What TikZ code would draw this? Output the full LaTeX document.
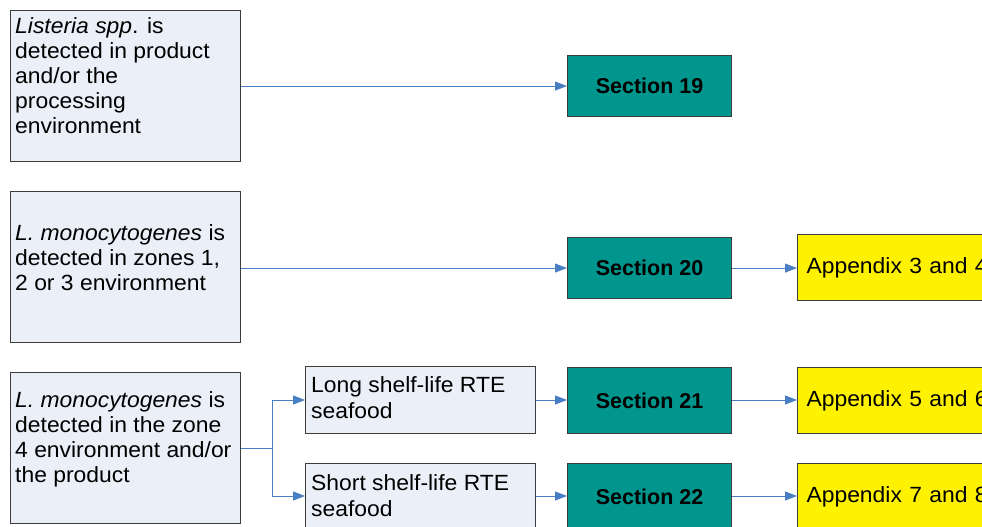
\documentclass[tikz,border=0pt]{standalone}
\usepackage{fontspec}
\setmainfont{Liberation Sans}
\newfontfamily\widefont{Liberation Sans}[FakeStretch=1.04]
\usetikzlibrary{arrows.meta}
\definecolor{boxfill}{RGB}{235,240,248}
\definecolor{boxline}{RGB}{60,60,60}
\definecolor{teal}{RGB}{0,150,142}
\definecolor{flow}{RGB}{74,126,196}
\tikzset{
  condbox/.style={draw=boxline, line width=1.1pt, fill=boxfill, anchor=north west, inner sep=0pt},
  secbox/.style={draw=boxline, line width=1.1pt, fill=teal, anchor=north west, inner sep=0pt,
    minimum width=164pt, font=\fontsize{21.5}{25}\selectfont\bfseries},
  appbox/.style={draw=boxline, line width=1.1pt, fill=yellow, anchor=north west, inner ysep=0pt,
    inner xsep=9pt, text width=200pt, align=left, font=\widefont\fontsize{22}{25}\selectfont},
  txt/.style={anchor=north west, inner sep=0pt, align=left, font=\widefont\fontsize{22}{25.2}\selectfont},
  link/.style={draw=flow, line width=1pt, -{Triangle[length=12pt,width=9pt]}},
  plain/.style={draw=flow, line width=1pt}
}
\begin{document}
\begin{tikzpicture}[x=1pt,y=-1pt]
\useasboundingbox (0,0) rectangle (982,527);
\clip (0,0) rectangle (982,527);

% condition boxes
\node[condbox, minimum width=230pt, minimum height=151pt] (ca) at (10,10) {};
\node[condbox, minimum width=230pt, minimum height=151pt] (cb) at (10,191) {};
\node[condbox, minimum width=230pt, minimum height=151pt] (cc) at (10,372) {};
\node[txt] (ta) at (15,17) {\textit{Listeria spp}. is\\detected in product\\and/or the\\processing\\environment};
\node[txt] (tb) at (15,224) {\textit{L. monocytogenes} is\\detected in zones 1,\\2 or 3 environment};
\node[txt] (tc) at (15,391) {\textit{L. monocytogenes} is\\detected in the zone\\4 environment and/or\\the product};

% shelf-life boxes
\node[condbox, minimum width=230pt, minimum height=67pt] (lg) at (305,366) {};
\node[condbox, minimum width=230pt, minimum height=67pt] (sh) at (305,463) {};
\node[txt, font=\widefont\fontsize{22}{26}\selectfont] (tlg) at (311,376) {Long shelf-life RTE\\seafood};
\node[txt, font=\widefont\fontsize{22}{26}\selectfont] (tsh) at (311,474) {Short shelf-life RTE\\seafood};

% section boxes
\node[secbox, minimum height=61pt] (s19) at (567,55) {Section 19};
\node[secbox, minimum height=61pt] (s20) at (567,237) {Section 20};
\node[secbox, minimum height=66pt] (s21) at (567,367) {Section 21};
\node[secbox, minimum height=66pt] (s22) at (567,463) {Section 22};

% appendix boxes
\node[appbox, minimum height=66pt] (a34) at (797,234) {Appendix 3 and 4};
\node[appbox, minimum height=66pt] (a56) at (797,367) {Appendix 5 and 6};
\node[appbox, minimum height=66pt] (a78) at (797,463) {Appendix 7 and 8};

% connectors
\draw[link] (ca.east |- s19.west) -- (s19.west);
\draw[link] (cb.east |- s20.west) -- (s20.west);
\draw[link] (s20) -- (a34.west |- s20);
\coordinate (fork) at (272,448);
\draw[plain] (cc.east |- fork) -- (fork);
\draw[link] (fork) |- (lg.west |- 0,400);
\draw[link] (fork) |- (sh.west |- 0,496);
\draw[link] (lg.east |- 0,400) -- (s21.west |- 0,400);
\draw[link] (sh.east |- 0,496) -- (s22.west |- 0,496);
\draw[link] (s21.east |- 0,400) -- (a56.west |- 0,400);
\draw[link] (s22.east |- 0,496) -- (a78.west |- 0,496);
\end{tikzpicture}
\end{document}
